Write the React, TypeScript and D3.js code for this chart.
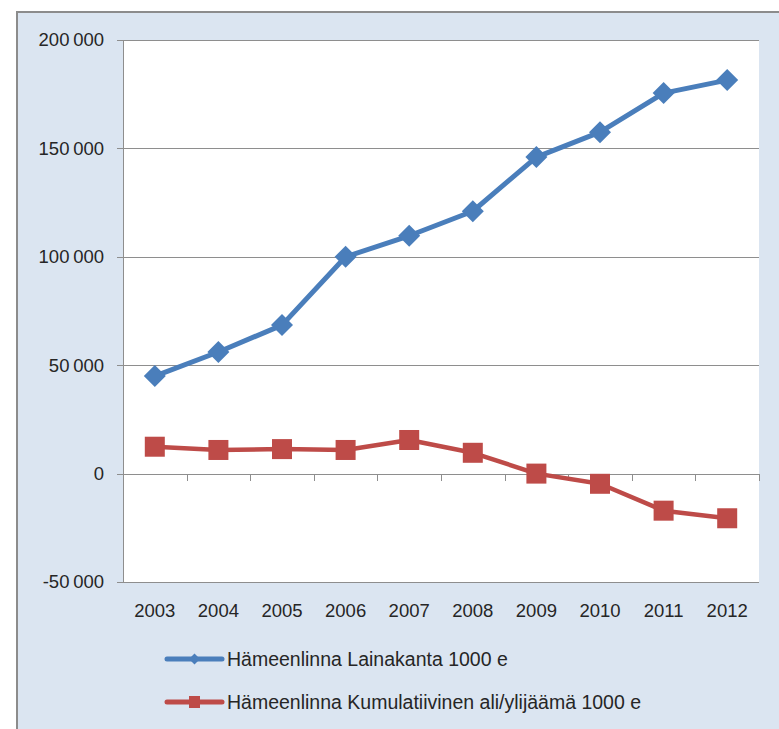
import React from "react";
import * as d3 from "d3";

const years = ["2003", "2004", "2005", "2006", "2007", "2008", "2009", "2010", "2011", "2012"];
const lainakanta = [45000, 56100, 68500, 100000, 109700, 121000, 146000, 157500, 175500, 181500];
const kumulatiivinen = [12400, 10900, 11300, 10900, 15500, 9600, 0, -4700, -17100, -20600];
const yTicks = [-50000, 0, 50000, 100000, 150000, 200000];
const seriesNames = [
  "Hämeenlinna Lainakanta 1000 e",
  "Hämeenlinna Kumulatiivinen ali/ylijäämä 1000 e",
];

const W = 779;
const H = 729;
const plot = { left: 123, right: 759, top: 40, bottom: 582 };
const BLUE = "#4A7EBB";
const RED = "#BE4B48";
const GRID = "#8E8E8E";
const TEXT = "#262626";
const FONT = "'Liberation Sans', Arial, sans-serif";

const fmt = (v: number) =>
  d3.format(",")(v).replace(/,/g, "\u2009").replace("\u2212", "-");

export default function App() {
  const x = d3.scaleBand<string>().domain(years).range([plot.left, plot.right]);
  const y = d3.scaleLinear().domain([-50000, 200000]).range([plot.bottom, plot.top]);
  const cx = (d: string) => (x(d) as number) + x.bandwidth() / 2;

  const line = d3
    .line<number>()
    .x((_, i) => cx(years[i]))
    .y((v) => y(v));

  const diamond = (px: number, py: number, r: number) =>
    `M${px},${py - r}L${px + r},${py}L${px},${py + r}L${px - r},${py}Z`;

  const y0 = y(0);
  const boundaries = [...years.map((d) => x(d) as number), plot.right];

  return (
    <svg
      width={W}
      height={H}
      style={{ position: "fixed", left: 0, top: 0, display: "block" }}
      fontFamily={FONT}
    >
      <rect x={0} y={0} width={W} height={H} fill="#ffffff" />
      <rect x={17} y={12} width={W} height={H} fill="#DBE5F1" />
      <line x1={17} y1={12} x2={W} y2={12} stroke="#8C8C8C" strokeWidth={2} />
      <line x1={17} y1={11} x2={17} y2={H} stroke="#8C8C8C" strokeWidth={2} />

      <rect
        x={plot.left}
        y={plot.top}
        width={plot.right - plot.left}
        height={plot.bottom - plot.top}
        fill="#ffffff"
      />

      {yTicks.map((t) => (
        <g key={t}>
          <line
            x1={plot.left - 6}
            x2={plot.right}
            y1={Math.round(y(t)) + 0.5}
            y2={Math.round(y(t)) + 0.5}
            stroke={GRID}
            strokeWidth={1}
          />
          <text
            x={104}
            y={y(t)}
            dy="0.35em"
            textAnchor="end"
            fontSize={18.5}
            fill={TEXT}
          >
            {fmt(t)}
          </text>
        </g>
      ))}
      <line
        x1={plot.left + 0.5}
        x2={plot.left + 0.5}
        y1={plot.top}
        y2={plot.bottom}
        stroke={GRID}
        strokeWidth={1}
      />
      {boundaries.map((b, i) => (
        <line
          key={i}
          x1={Math.round(b) + 0.5}
          x2={Math.round(b) + 0.5}
          y1={Math.round(y0)}
          y2={Math.round(y0) + 7}
          stroke={GRID}
          strokeWidth={1}
        />
      ))}
      {years.map((d) => (
        <text
          key={d}
          x={cx(d)}
          y={617}
          textAnchor="middle"
          fontSize={18.5}
          fill={TEXT}
        >
          {d}
        </text>
      ))}

      <path d={line(lainakanta) || ""} fill="none" stroke={BLUE} strokeWidth={5} strokeLinejoin="round" />
      {lainakanta.map((v, i) => (
        <path key={i} d={diamond(cx(years[i]), y(v), 11)} fill={BLUE} />
      ))}

      <path d={line(kumulatiivinen) || ""} fill="none" stroke={RED} strokeWidth={4.5} strokeLinejoin="round" />
      {kumulatiivinen.map((v, i) => (
        <rect key={i} x={cx(years[i]) - 10} y={y(v) - 10} width={20} height={20} fill={RED} />
      ))}

      <g>
        <line x1={167} x2={222} y1={659} y2={659} stroke={BLUE} strokeWidth={5} strokeLinecap="round" />
        <path d={diamond(194.5, 659, 5.5)} fill={BLUE} />
        <text x={227} y={666} fontSize={19.5} fill={TEXT}>
          {seriesNames[0]}
        </text>
        <line x1={167} x2={222} y1={702} y2={702} stroke={RED} strokeWidth={5} strokeLinecap="round" />
        <rect x={189} y={696} width={11} height={12} fill={RED} />
        <text x={227} y={709} fontSize={19.5} fill={TEXT}>
          {seriesNames[1]}
        </text>
      </g>
    </svg>
  );
}
